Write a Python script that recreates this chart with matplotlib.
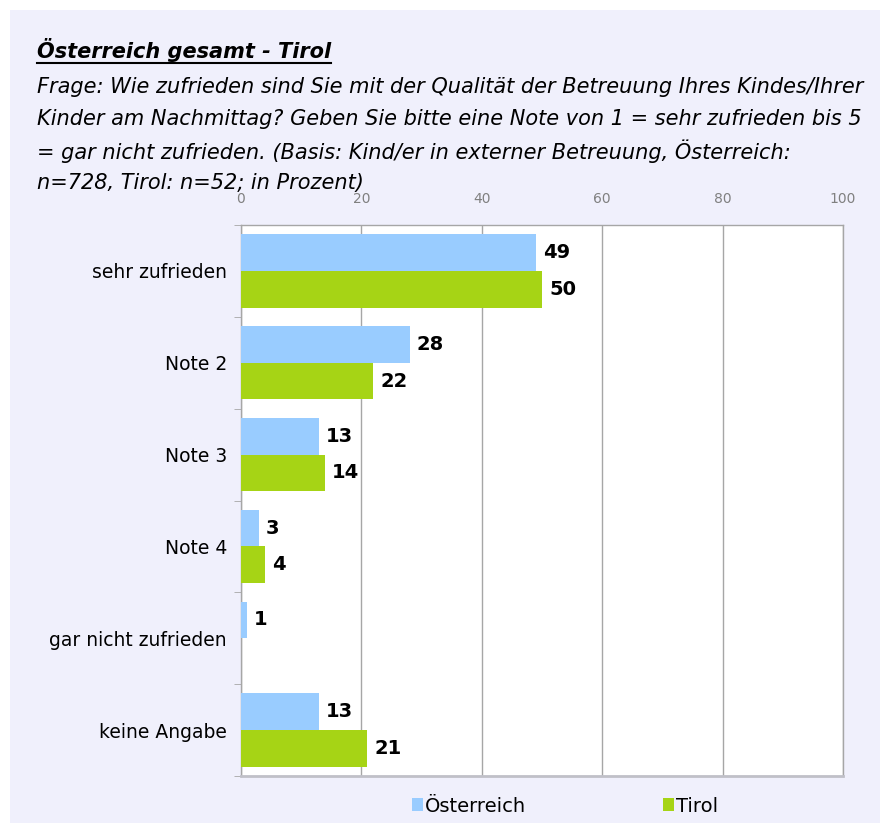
import matplotlib.pyplot as plt
from matplotlib.patches import Patch, Rectangle
from matplotlib.lines import Line2D
import numpy as np

categories = ["sehr zufrieden", "Note 2", "Note 3", "Note 4",
              "gar nicht zufrieden", "keine Angabe"]
oesterreich = [49, 28, 13, 3, 1, 13]
tirol = [50, 22, 14, 4, 0, 21]
series_names = ["Österreich", "Tirol"]
x_ticks = [0, 20, 40, 60, 80, 100]

title = "Österreich gesamt - Tirol"
question = [
    "Frage: Wie zufrieden sind Sie mit der Qualität der Betreuung Ihres Kindes/Ihrer",
    "Kinder am Nachmittag? Geben Sie bitte eine Note von 1 = sehr zufrieden bis 5",
    "= gar nicht zufrieden. (Basis: Kind/er in externer Betreuung, Österreich:",
    "n=728, Tirol: n=52; in Prozent)",
]

blue = "#99ccff"
green = "#a6d415"
bg = "#f0f0fc"
grid_col = "#a6a6a6"

W, H = 884, 823
fig = plt.figure(figsize=(W / 100, H / 100), dpi=100)
fig.patch.set_facecolor("white")
# lavender panel
fig.add_artist(Rectangle((10 / W, 0), (880 - 10) / W, (H - 10) / H,
                         transform=fig.transFigure, facecolor=bg,
                         edgecolor="none", zorder=-10))

# title + question
t = fig.text(37 / W, 1 - 50 / H, title, fontsize=15, fontweight="bold",
             fontstyle="italic", va="center", ha="left")
for i, line in enumerate(question):
    fig.text(37 / W, 1 - (87 + 32 * i) / H, line, fontsize=15,
             fontstyle="italic", va="center", ha="left")

ax = fig.add_axes([241 / W, 1 - 776 / H, (843 - 241) / W, (776 - 225) / H])
ax.set_facecolor("white")

y = np.arange(len(categories))
h = 0.4
b1 = ax.barh(y - h / 2, oesterreich, height=h, color=blue, zorder=3)
b2 = ax.barh(y + h / 2, tirol, height=h, color=green, zorder=3)

for bars, vals in ((b1, oesterreich), (b2, tirol)):
    for bar, v in zip(bars, vals):
        if v == 0:
            continue
        ax.annotate(str(v), (bar.get_width(), bar.get_y() + bar.get_height() / 2),
                    xytext=(5, 0), textcoords="offset points", va="center",
                    ha="left", fontsize=14, fontweight="bold", color="black")

ax.set_xlim(0, 100)
ax.set_ylim(len(categories) - 0.5, -0.5)
ax.set_xticks(x_ticks)
ax.set_xticklabels([str(v) for v in x_ticks], color="#808080", fontsize=10)
ax.xaxis.tick_top()
ax.tick_params(axis="x", length=0, pad=13.5)
ax.grid(axis="x", color=grid_col, linewidth=1, zorder=0)

ax.set_yticks(y)
ax.set_yticklabels(categories, fontsize=13.5)
ax.set_yticks(np.arange(len(categories) + 1) - 0.5, minor=True)
ax.tick_params(axis="y", which="major", length=0, pad=10)
ax.tick_params(axis="y", which="minor", length=5, color=grid_col, direction="out")

for side in ["top", "right", "left"]:
    ax.spines[side].set_color(grid_col)
    ax.spines[side].set_linewidth(1)
ax.spines["bottom"].set_color("#c0c0c8")
ax.spines["bottom"].set_linewidth(2)

handles = [Patch(facecolor=blue), Patch(facecolor=green)]
fig.legend(handles, series_names, loc="center left",
           bbox_to_anchor=(402 / W, 1 - 806 / H), ncol=2, frameon=False,
           fontsize=14, handlelength=0.6, handleheight=0.6,
           handletextpad=0.1, columnspacing=7.0, borderpad=0)

# underline the title
fig.canvas.draw()
bb = t.get_window_extent(fig.canvas.get_renderer())
uy = (bb.y0 - 1) / H
fig.add_artist(Line2D([bb.x0 / W, bb.x1 / W], [uy, uy], color="black",
                      linewidth=1.5, transform=fig.transFigure))

fig.savefig("out.png", dpi=100, facecolor=fig.get_facecolor())
